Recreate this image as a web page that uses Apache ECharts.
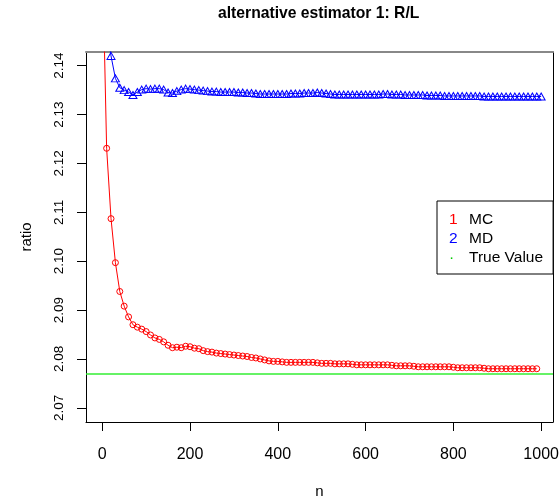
<!DOCTYPE html>
<html>
<head>
<meta charset="utf-8">
<script src="https://cdn.jsdelivr.net/npm/echarts@6/dist/echarts.min.js"></script>
<style>html,body{margin:0;padding:0;background:#fff;}#chart{width:559px;height:497px;}</style>
</head>
<body>
<div id="chart"></div>
<script>
const titleText = 'alternative estimator 1: R/L';
const xTicks = [0, 200, 400, 600, 800, 1000];
const yTicks = [2.07, 2.08, 2.09, 2.10, 2.11, 2.12, 2.13, 2.14];
const trueValue = 2.0769;

const mcN = [1,10,20,30,40,50,60,70,80,90,100,110,120,130,140,150,160,170,180,190,200,
  210,220,230,240,250,260,270,280,290,300,310,320,330,340,350,360,370,380,390,400,
  410,420,430,440,450,460,470,480,490,500,510,520,530,540,550,560,570,580,590,600,
  610,620,630,640,650,660,670,680,690,700,710,720,730,740,750,760,770,780,790,800,
  810,820,830,840,850,860,870,880,890,900,910,920,930,940,950,960,970,980,990];
const mcValues = [2.160,2.1231,2.1087,2.0997,2.0938,2.0908,2.0886,2.0870,2.0865,2.0861,2.0856,
  2.0849,2.0843,2.0840,2.0835,2.0828,2.0823,2.0824,2.0823,2.0826,2.0825,
  2.0822,2.0821,2.0817,2.0815,2.0814,2.0812,2.0811,2.0810,2.0809,2.0808,
  2.0807,2.0806,2.0805,2.0803,2.0802,2.0800,2.0798,2.0796,2.0795,2.0795,
  2.0794,2.0793,2.0793,2.0793,2.0793,2.0793,2.0793,2.0793,2.0792,2.0791,
  2.0791,2.0791,2.0790,2.0790,2.0790,2.0790,2.0789,2.0788,2.0788,2.0788,
  2.0788,2.0788,2.0788,2.0788,2.0788,2.0787,2.0786,2.0786,2.0786,2.0786,
  2.0785,2.0784,2.0784,2.0784,2.0784,2.0784,2.0784,2.0784,2.0784,2.0783,
  2.0782,2.0782,2.0782,2.0782,2.0782,2.0782,2.0781,2.0780,2.0780,2.0780,
  2.0780,2.0780,2.0780,2.0780,2.0780,2.0780,2.0780,2.0780,2.0780];

const mdN = [10,20,30,40,50,60,70,80,90,100,110,120,130,140,150,160,170,180,190,200,
  210,220,230,240,250,260,270,280,290,300,310,320,330,340,350,360,370,380,390,400,
  410,420,430,440,450,460,470,480,490,500,510,520,530,540,550,560,570,580,590,600,
  610,620,630,640,650,660,670,680,690,700,710,720,730,740,750,760,770,780,790,800,
  810,820,830,840,850,860,870,880,890,900,910,920,930,940,950,960,970,980,990,1000];
const mdValues = [2.148,2.1420,2.1374,2.1355,2.1350,2.1346,2.1340,2.1346,2.1351,2.1353,
  2.1352,2.1353,2.1353,2.1351,2.1345,2.1344,2.1348,2.1351,2.1353,2.1352,
  2.1351,2.1350,2.1349,2.1348,2.1347,2.1347,2.1346,2.1346,2.1346,2.1346,
  2.1345,2.1345,2.1344,2.1344,2.1343,2.1342,2.1342,2.1342,2.1342,2.1342,
  2.1342,2.1342,2.1343,2.1343,2.1343,2.1344,2.1344,2.1344,2.1345,2.1344,
  2.1343,2.1342,2.1341,2.1341,2.1341,2.1341,2.1341,2.1341,2.1341,2.1341,
  2.1341,2.1341,2.1341,2.1342,2.1342,2.1341,2.1341,2.1341,2.1340,2.1340,
  2.1340,2.1340,2.1340,2.1339,2.1339,2.1339,2.1339,2.1338,2.1338,2.1338,
  2.1338,2.1338,2.1338,2.1338,2.1338,2.1338,2.1337,2.1337,2.1337,2.1337,
  2.1337,2.1337,2.1337,2.1337,2.1337,2.1337,2.1337,2.1337,2.1337,2.1337];

const FONT = 'Liberation Sans';
const X_MIN = -37, X_MAX = 1027, Y_MIN = 2.0671, Y_MAX = 2.1428;

const chart = echarts.init(document.getElementById('chart'), null, {renderer: 'canvas'});
const legendNum = {MC: '{r|1}', MD: '{b|2}', 'True Value': '{g|·}'};

chart.setOption({
  animation: false,
  backgroundColor: '#fff',
  title: {
    text: titleText, left: 218, top: 6, padding: 0,
    textStyle: {fontFamily: FONT, fontWeight: 'bold', fontSize: 15.7, color: '#000'}
  },
  grid: {left: 86, right: 6, top: 52, bottom: 75, show: false, outerBoundsMode: 'none', containLabel: false},
  legend: {
    orient: 'vertical', left: 437, top: 201,
    padding: [10, 10, 7, 6], itemGap: 1,
    itemWidth: 0, itemHeight: 0, icon: 'rect',
    borderColor: '#000', borderWidth: 1, borderRadius: 0, backgroundColor: '#fff',
    selectedMode: false,
    data: ['MC', 'MD', 'True Value'],
    formatter: name => legendNum[name] + name,
    textStyle: {
      fontFamily: FONT, fontSize: 15.5, color: '#000', lineHeight: 18,
      rich: {
        r: {color: '#ff0000', fontSize: 15.5, fontFamily: FONT, width: 20, lineHeight: 18},
        b: {color: '#0000ff', fontSize: 15.5, fontFamily: FONT, width: 20, lineHeight: 18},
        g: {color: '#00cc00', fontSize: 15.5, fontFamily: FONT, width: 20, lineHeight: 18}
      }
    }
  },
  xAxis: [{
    type: 'value', min: X_MIN, max: X_MAX, position: 'bottom',
    name: 'n', nameLocation: 'middle', nameGap: 62,
    nameTextStyle: {fontFamily: FONT, fontSize: 15, color: '#000'},
    axisLine: {show: true, onZero: false, lineStyle: {color: '#000', width: 1}},
    axisTick: {show: true, length: 9, customValues: xTicks, lineStyle: {color: '#000'}},
    axisLabel: {show: true, margin: 25, customValues: xTicks, formatter: v => String(v),
      fontFamily: FONT, fontSize: 16, color: '#000'},
    splitLine: {show: false}
  }, {
    type: 'value', min: X_MIN, max: X_MAX, position: 'top',
    axisLine: {show: true, onZero: false, lineStyle: {color: '#888', width: 2}},
    axisTick: {show: false}, axisLabel: {show: false}, splitLine: {show: false}
  }],
  yAxis: [{
    type: 'value', min: Y_MIN, max: Y_MAX, position: 'left',
    name: 'ratio', nameLocation: 'middle', nameGap: 52, nameRotate: 90,
    nameTextStyle: {fontFamily: FONT, fontSize: 15, color: '#000'},
    axisLine: {show: true, onZero: false, lineStyle: {color: '#000', width: 1}},
    axisTick: {show: true, length: 9, customValues: yTicks, lineStyle: {color: '#000'}},
    axisLabel: {show: true, rotate: 90, margin: 20, customValues: yTicks,
      formatter: v => v.toFixed(2), fontFamily: FONT, fontSize: 13.5, color: '#000'},
    splitLine: {show: false}
  }, {
    type: 'value', min: Y_MIN, max: Y_MAX, position: 'right',
    axisLine: {show: true, onZero: false, lineStyle: {color: '#000', width: 1}},
    axisTick: {show: false}, axisLabel: {show: false}, splitLine: {show: false}
  }],
  series: [{
    name: 'MC', type: 'line', clip: true,
    data: mcN.map((n, i) => [n, mcValues[i]]),
    symbol: 'circle', symbolSize: 6, showAllSymbol: true,
    lineStyle: {color: '#ff0000', width: 1},
    itemStyle: {color: 'rgba(255,255,255,0)', borderColor: '#ff0000', borderWidth: 1}
  }, {
    name: 'MD', type: 'line', clip: true,
    data: mdN.map((n, i) => [n, mdValues[i]]),
    symbol: 'triangle', symbolSize: [8, 7], showAllSymbol: true,
    lineStyle: {color: '#0000ff', width: 1},
    itemStyle: {color: 'rgba(255,255,255,0)', borderColor: '#0000ff', borderWidth: 1}
  }, {
    name: 'True Value', type: 'line', clip: true,
    data: [[X_MIN, trueValue], [X_MAX, trueValue]],
    symbol: 'none', showSymbol: false,
    itemStyle: {color: '#00cc00'},
    lineStyle: {color: '#33ee33', width: 1.5, type: 'solid'}
  }]
});
</script>
</body>
</html>
